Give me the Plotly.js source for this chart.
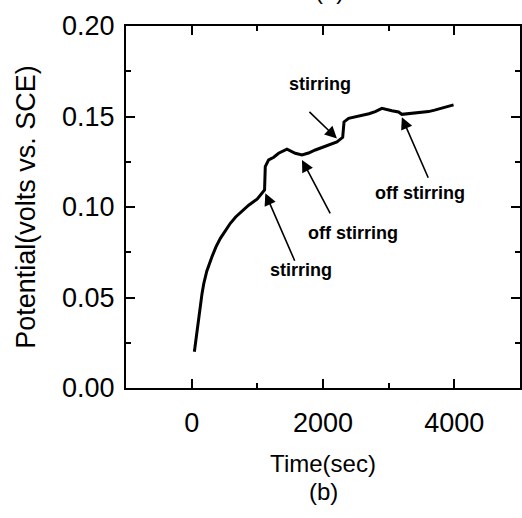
<!DOCTYPE html>
<html>
<head>
<meta charset="utf-8">
<script src="https://cdn.plot.ly/plotly-3.0.1.min.js"></script>
<style>html,body{margin:0;padding:0;background:#fff;}#chart{width:522px;height:518px;}</style>
</head>
<body>
<div id="chart"></div>
<script>
// Data
var timeSec = [41, 81, 120, 157, 183, 230, 309, 370, 437, 510, 589, 670, 766, 868, 1000, 1096, 1110, 1121, 1172, 1250, 1324, 1451, 1578, 1680, 1780, 1883, 2085, 2212, 2300, 2320, 2390, 2500, 2592, 2700, 2796, 2897, 3049, 3150, 3201, 3353, 3500, 3607, 3700, 3810, 3900, 3988];
var potential = [0.020, 0.032, 0.043, 0.052, 0.0575, 0.0645, 0.0725, 0.078, 0.0827, 0.087, 0.091, 0.0945, 0.0975, 0.101, 0.1045, 0.1085, 0.1094, 0.1223, 0.126, 0.1275, 0.1297, 0.1319, 0.1297, 0.1287, 0.1298, 0.1315, 0.1343, 0.1360, 0.1385, 0.1470, 0.1490, 0.1498, 0.1508, 0.1515, 0.1527, 0.1545, 0.1532, 0.1525, 0.1512, 0.1518, 0.1520, 0.1527, 0.1535, 0.1545, 0.1552, 0.1564];

var xTickVals = [0, 2000, 4000];
var yTickVals = [0.00, 0.05, 0.10, 0.15, 0.20];

// annotation labels
var labelTexts = ["stirring", "off stirring", "stirring", "off stirring"];
var labelTimes = [1659, 2450, 1948, 3470];
var labelPots = [0.0652, 0.0856, 0.1680, 0.1077];
// arrow tips: time, potential, plus tail offsets in pixels
var arrowTimes = [1122, 1680, 2212, 3201];
var arrowPots = [0.1076, 0.1260, 0.1379, 0.1496];
var arrowDx = [30, 29, -29, 27];
var arrowDy = [69, 55, -28, 62];

var fam = 'Liberation Sans, Arial, sans-serif';
var annotations = [];
for (var i = 0; i < labelTexts.length; i++) {
  annotations.push({
    x: labelTimes[i], y: labelPots[i], xref: 'x', yref: 'y',
    text: labelTexts[i], showarrow: false,
    font: {family: fam, size: 18, color: '#000', weight: 'bold'}
  });
  annotations.push({
    x: arrowTimes[i], y: arrowPots[i], xref: 'x', yref: 'y',
    text: '', showarrow: true, ax: arrowDx[i], ay: arrowDy[i],
    arrowhead: 2, arrowsize: 1.5, arrowwidth: 1.6, arrowcolor: '#000'
  });
}
annotations.push({
  x: 0.5, y: -0.285, xref: 'paper', yref: 'paper', xanchor: 'center', yanchor: 'middle',
  text: '(b)', showarrow: false,
  font: {family: fam, size: 24, color: '#000'}
});
annotations.push({
  x: 0.517, y: 1.055, xref: 'paper', yref: 'paper', xanchor: 'center', yanchor: 'bottom',
  text: '(a)', showarrow: false,
  font: {family: fam, size: 24, color: '#000'}
});

var trace = {
  x: timeSec, y: potential, type: 'scatter', mode: 'lines',
  line: {color: '#000', width: 3}, hoverinfo: 'none'
};

var tickFont = {family: fam, size: 27, color: '#000'};

var layout = {
  width: 522, height: 518,
  margin: {l: 126, r: 2, t: 26, b: 130},
  paper_bgcolor: '#fff', plot_bgcolor: '#fff',
  showlegend: false,
  xaxis: {
    range: [-1000, 5000], tickvals: xTickVals, ticktext: xTickVals.map(String),
    ticks: 'inside', ticklen: 9, tickwidth: 2, tickcolor: '#000',
    minor: {ticks: 'inside', ticklen: 5, tickwidth: 2, tickcolor: '#000', dtick: 1000, tick0: 0},
    showline: true, linecolor: '#000', linewidth: 2, mirror: 'ticks',
    showgrid: false, zeroline: false,
    tickfont: tickFont, ticklabelstandoff: 10,
    title: {text: 'Time(sec)', font: {family: fam, size: 24, color: '#000'}, standoff: 18}
  },
  yaxis: {
    range: [0, 0.2], tickvals: yTickVals, ticktext: yTickVals.map(function(v){return v.toFixed(2);}),
    ticks: 'inside', ticklen: 9, tickwidth: 2, tickcolor: '#000',
    minor: {ticks: 'inside', ticklen: 5, tickwidth: 2, tickcolor: '#000', dtick: 0.025, tick0: 0},
    showline: true, linecolor: '#000', linewidth: 2, mirror: 'ticks',
    showgrid: false, zeroline: false,
    tickfont: tickFont, ticklabelstandoff: 4,
    title: {text: 'Potential(volts vs. SCE)', font: {family: fam, size: 27, color: '#000'}, standoff: 19}
  },
  annotations: annotations
};

Plotly.newPlot('chart', [trace], layout, {displayModeBar: false, staticPlot: true});
</script>
</body>
</html>
